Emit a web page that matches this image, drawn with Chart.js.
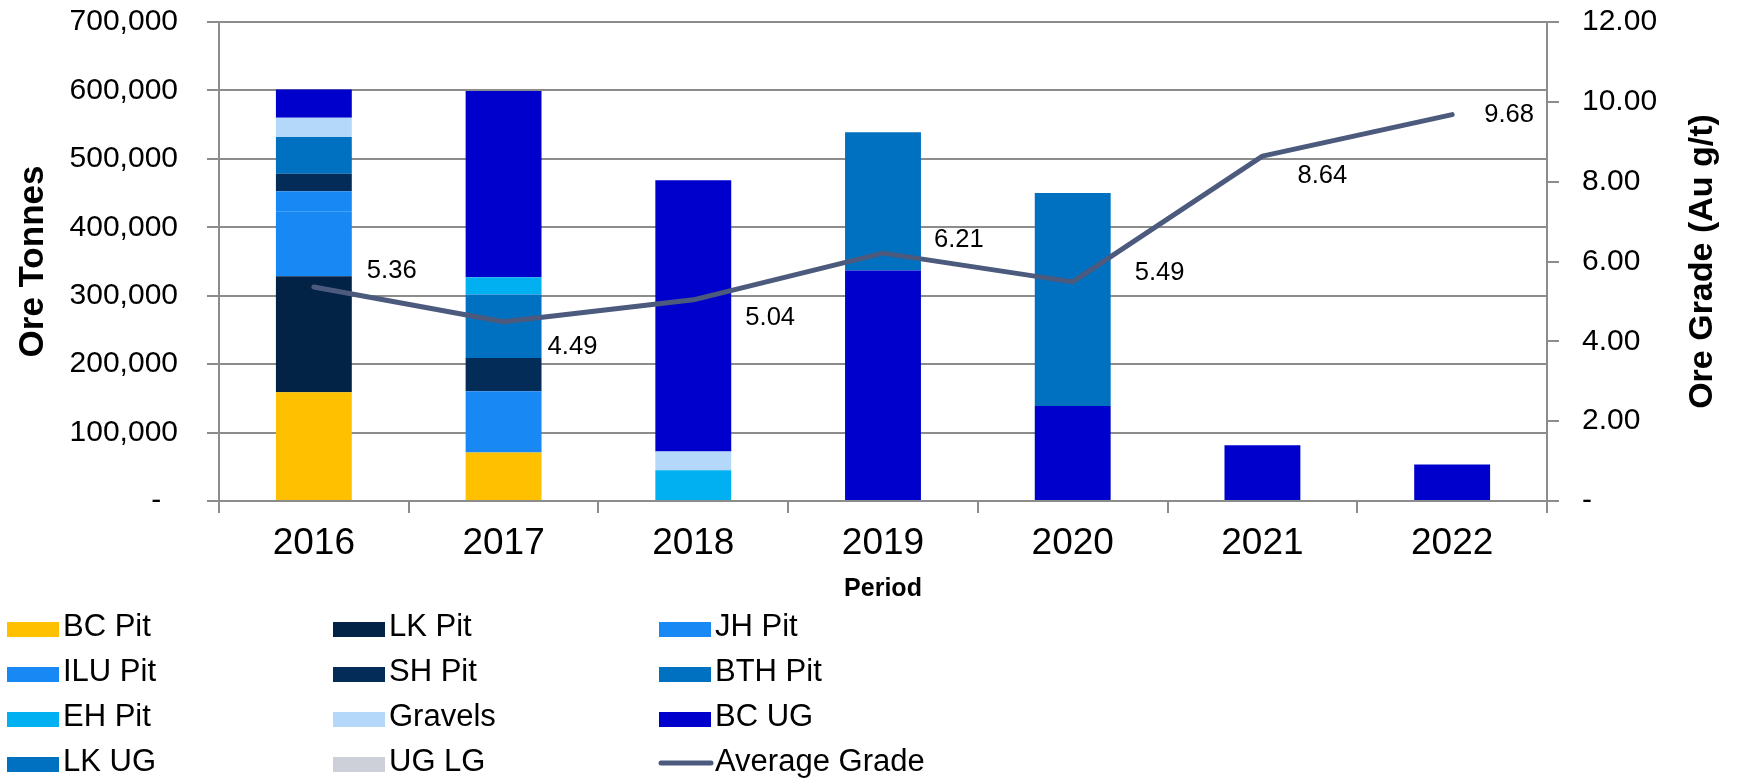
<!DOCTYPE html>
<html>
<head>
<meta charset="utf-8">
<title>Ore Tonnes and Grade</title>
<script src="https://cdn.jsdelivr.net/npm/chart.js@4.4.1/dist/chart.umd.min.js"></script>
<style>
  body { margin: 0; background: #fff; }
  #wrap { width: 1738px; height: 780px; }
</style>
</head>
<body>
<div id="wrap"><canvas id="oreChart" width="1738" height="780"></canvas></div>
<script>
// values
const years = ['2016', '2017', '2018', '2019', '2020', '2021', '2022'];
const bcPit   = [159000, 70700, 0, 0, 0, 0, 0];
const lkPit   = [169600, 0, 0, 0, 0, 0, 0];
const jhPit   = [94000, 89600, 0, 0, 0, 0, 0];
const iluPit  = [30000, 0, 0, 0, 0, 0, 0];
const shPit   = [25600, 48700, 0, 0, 0, 0, 0];
const bthPit  = [53600, 92600, 0, 0, 0, 0, 0];
const ehPit   = [0, 25300, 44900, 0, 0, 0, 0];
const gravels = [28300, 0, 27300, 0, 0, 0, 0];
const bcUg    = [41400, 272300, 396500, 336700, 138900, 81400, 53200];
const lkUg    = [0, 0, 0, 202100, 311200, 0, 0];
const ugLg    = [0, 0, 0, 0, 0, 0, 0];
const avgGrade = [5.36, 4.49, 5.04, 6.21, 5.49, 8.64, 9.68];

// where each grade label sits relative to its point (left edge dx, middle dy)
const labelDx = [53, 44, 52, 51, 62, 35, 32];
const labelDy = [-16, 25, 18, -13, -9, 20, 0];

const FONT = '"Liberation Sans", Arial, sans-serif';
const GRID = '#8c8c8c';

Chart.defaults.font.family = FONT;
Chart.defaults.color = '#000';

function bar(label, data, color) {
  return {
    type: 'bar', label: label, data: data, backgroundColor: color,
    borderWidth: 0, yAxisID: 'y', order: 1,
    barPercentage: 0.5, categoryPercentage: 0.8
  };
}

const extras = {
  id: 'extras',
  afterDraw(chart) {
    const ctx = chart.ctx;
    const area = chart.chartArea;
    const sets = chart.data.datasets;
    const lineIdx = sets.length - 1;
    const pts = chart.getDatasetMeta(lineIdx).data;

    // grade labels
    ctx.save();
    ctx.fillStyle = '#000';
    ctx.font = '25.6px ' + FONT;
    ctx.textAlign = 'left';
    ctx.textBaseline = 'middle';
    pts.forEach((p, i) => {
      ctx.fillText(avgGrade[i].toFixed(2), p.x + labelDx[i], p.y + labelDy[i]);
    });
    ctx.restore();

    // right axis title, reading bottom to top
    ctx.save();
    ctx.translate(1703, (area.top + area.bottom) / 2);
    ctx.rotate(-Math.PI / 2);
    ctx.font = 'bold 34px ' + FONT;
    ctx.textAlign = 'center';
    ctx.textBaseline = 'middle';
    ctx.fillStyle = '#000';
    ctx.fillText('Ore Grade (Au g/t)', 0, 0);
    ctx.restore();

    // legend: 3 columns, 4 rows
    const cols = [7, 333, 659];
    const rows = [627, 672, 717, 762];
    ctx.save();
    ctx.font = '31px ' + FONT;
    ctx.textBaseline = 'middle';
    ctx.textAlign = 'left';
    sets.forEach((ds, i) => {
      const x = cols[i % 3];
      const y = rows[Math.floor(i / 3)];
      if (ds.type === 'line') {
        ctx.strokeStyle = ds.borderColor;
        ctx.lineWidth = 5;
        ctx.lineCap = 'round';
        ctx.beginPath();
        ctx.moveTo(x + 2, y + 1);
        ctx.lineTo(x + 52, y + 1);
        ctx.stroke();
      } else {
        ctx.fillStyle = ds.backgroundColor;
        ctx.fillRect(x, y - 5, 52, 15);
      }
      ctx.fillStyle = '#000';
      ctx.fillText(ds.label, x + 56, y);
    });
    ctx.restore();
  }
};

new Chart(document.getElementById('oreChart'), {
  data: {
    labels: years,
    datasets: [
      bar('BC Pit', bcPit, '#ffc000'),
      bar('LK Pit', lkPit, '#022346'),
      bar('JH Pit', jhPit, '#1888f5'),
      bar('ILU Pit', iluPit, '#1888f5'),
      bar('SH Pit', shPit, '#032c58'),
      bar('BTH Pit', bthPit, '#0070c0'),
      bar('EH Pit', ehPit, '#00b0f0'),
      bar('Gravels', gravels, '#b4d8fa'),
      bar('BC UG', bcUg, '#0000cc'),
      bar('LK UG', lkUg, '#0070c0'),
      bar('UG LG', ugLg, '#cdd0d8'),
      {
        type: 'line', label: 'Average Grade', data: avgGrade, yAxisID: 'y1',
        borderColor: '#4b5a7d', borderWidth: 5, pointRadius: 0,
        borderCapStyle: 'round', borderJoinStyle: 'round',
        fill: false, tension: 0, order: 0
      }
    ]
  },
  options: {
    responsive: false,
    animation: false,
    devicePixelRatio: 1,
    layout: { padding: { top: 22, left: 0, right: 0, bottom: 176 } },
    plugins: { legend: { display: false }, tooltip: { enabled: false } },
    scales: {
      x: {
        stacked: true,
        offset: true,
        grid: { offset: true, drawOnChartArea: false, drawTicks: true, tickLength: 12, color: GRID, lineWidth: 2 },
        border: { color: GRID, width: 2 },
        ticks: { font: { size: 37 }, padding: 9, maxRotation: 0 },
        title: { display: true, text: 'Period', font: { size: 25, weight: 'bold' }, padding: { top: 0, bottom: 0 } },
        afterFit: s => { s.height = 103; }
      },
      y: {
        stacked: true,
        position: 'left',
        min: 0, max: 700000,
        grid: { color: GRID, lineWidth: 2, tickLength: 12 },
        border: { color: GRID, width: 2 },
        ticks: {
          stepSize: 100000, font: { size: 30 }, padding: 29,
          callback: v => v === 0 ? '-  ' : v.toLocaleString('en-US')
        },
        title: { display: true, text: 'Ore Tonnes', font: { size: 35, weight: 'bold' }, padding: { top: 12, bottom: 0 } },
        afterFit: s => { s.width = 219; s.paddingTop = 18; s.paddingBottom = 18; }
      },
      y1: {
        position: 'right',
        min: 0, max: 12,
        grid: { drawOnChartArea: false, color: GRID, lineWidth: 2, tickLength: 12 },
        border: { color: GRID, width: 2 },
        ticks: {
          stepSize: 2, font: { size: 30 }, padding: 23,
          callback: v => v === 0 ? '-' : v.toFixed(2)
        },
        afterFit: s => { s.width = 191; s.paddingTop = 18; s.paddingBottom = 18; }
      }
    }
  },
  plugins: [extras]
});
</script>
</body>
</html>
